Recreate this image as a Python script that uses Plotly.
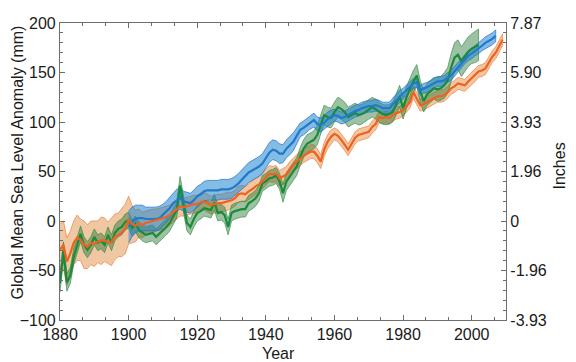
import plotly.graph_objects as go

# ---------------- data (mm) ----------------
orange_years = list(range(1880, 2010))
orange_mm = [-29, -24, -41, -33, -22, -17, -19, -24, -26, -22,
             -23, -21, -20, -19, -22, -21, -16, -14, -12, -8,
             1, -3, -5, -2, -4, -2, -1, 0, 1, 2,
             3, 4, 6, 9, 12, 15, 14, 15, 16, 17,
             17, 19, 20, 18, 16, 17, 18, 18, 19, 20,
             21, 23, 27, 28, 27, 30, 32, 35, 37, 40,
             44, 48, 47, 48, 43, 45, 47, 52, 57, 60,
             63, 66, 68, 70, 70, 66, 60, 72, 80, 85,
             88, 86, 82, 77, 72, 78, 84, 87, 88, 89,
             90, 95, 98, 105, 104, 105, 104, 107, 109, 110,
             112, 116, 120, 130, 124, 117, 118, 120, 122, 124,
             126, 126, 127, 130, 134, 136, 139, 138, 137, 141,
             144, 147, 151, 152, 154, 160, 166, 170, 176, 183]
orange_err = [26, 24, 24, 23, 22, 23, 21, 24, 22, 22,
              23, 21, 24, 22, 21, 24, 23, 22, 24, 25,
              24, 19, 16, 14, 13, 12, 12, 12, 11, 11,
              11, 11, 10, 10, 10, 10, 9, 9, 9, 9,
              9, 9, 9, 9, 9, 9, 9, 9, 9, 9,
              8, 8, 8, 8, 8, 8, 8, 8, 8, 8,
              8, 8, 8, 8, 8, 8, 8, 8, 7, 7,
              7, 7, 7, 7, 7, 7, 7, 7, 7, 7,
              6, 6, 6, 6, 6, 6, 6, 6, 6, 6,
              6, 6, 6, 6, 6, 6, 6, 6, 6, 6,
              6, 6, 6, 6, 6, 6, 6, 6, 6, 6,
              6, 6, 6, 6, 6, 6, 6, 6, 6, 6,
              6, 6, 6, 6, 6, 6, 6, 6, 6, 6]

blue_years = list(range(1900, 2008))
blue_mm = [-6, -1, 2, 3, 3, 2, 2, 2, 2, 3,
           6, 9, 13, 18, 21, 23, 20, 19, 18, 21,
           25, 27, 30, 31, 31, 31, 31, 32, 32, 32,
           33, 35, 38, 42, 45, 49, 51, 53, 55, 58,
           63, 69, 72, 71, 68, 68, 73, 76, 80, 86,
           92, 94, 97, 100, 102, 98, 97, 99, 103, 105,
           107, 106, 104, 105, 107, 109, 111, 112, 114, 115,
           116, 116, 117, 116, 114, 114, 114, 118, 122, 126,
           129, 132, 136, 139, 140, 132, 134, 135, 137, 139,
           141, 141, 142, 145, 147, 151, 155, 160, 164, 167,
           169, 172, 174, 177, 180, 182, 184, 187]
blue_err = [16, 15, 14, 13, 13, 12, 12, 12, 12, 12,
            11, 11, 11, 11, 11, 11, 10, 10, 10, 10,
            10, 10, 10, 10, 10, 10, 10, 10, 10, 10,
            10, 10, 10, 10, 10, 10, 10, 10, 10, 10,
            10, 10, 10, 10, 10, 9, 9, 9, 9, 8,
            7, 7, 7, 7, 7, 7, 7, 7, 7, 7,
            6, 6, 6, 6, 6, 6, 6, 6, 6, 6,
            6, 6, 6, 6, 6, 6, 6, 6, 6, 6,
            5, 5, 5, 5, 5, 5, 5, 5, 5, 5,
            5, 5, 5, 5, 5, 5, 5, 5, 5, 5,
            5, 5, 5, 5, 6, 6, 6, 6]

green_years = list(range(1880, 2003))
green_mm = [-63, -30, -62, -55, -36, -24, -13, -24, -29, -24,
            -16, -22, -20, -24, -14, -22, -12, -8, -6, -1,
            1, -7, -3, -9, -12, -14, -13, -12, -16, -13,
            -9, -6, -2, 5, 11, 36, 18, -2, -6, 2,
            8, 10, 13, 12, 11, 19, 8, 9, 6, -6,
            8, 10, 11, 12, 12, 18, 20, 23, 28, 38,
            40, 43, 44, 46, 40, 28, 40, 45, 50, 55,
            65, 73, 78, 80, 82, 87, 98, 107, 105, 104,
            110, 115, 113, 110, 105, 107, 109, 107, 108, 110,
            113, 115, 113, 110, 108, 107, 108, 110, 118, 126,
            114, 125, 133, 141, 147, 131, 121, 128, 131, 134,
            133, 134, 137, 142, 155, 165, 168, 161, 166, 171,
            174, 176, 178]
green_err = [9, 9, 9, 8, 8, 8, 8, 8, 8, 8,
             8, 8, 8, 8, 8, 8, 8, 8, 8, 8,
             8, 8, 8, 8, 8, 8, 8, 8, 8, 8,
             8, 8, 8, 8, 8, 9, 8, 8, 8, 8,
             8, 8, 8, 8, 8, 8, 8, 8, 8, 8,
             8, 8, 8, 8, 8, 8, 8, 8, 8, 8,
             8, 8, 8, 8, 8, 9, 9, 9, 9, 9,
             9, 9, 9, 9, 9, 10, 10, 10, 10, 10,
             10, 10, 10, 10, 10, 10, 10, 10, 10, 10,
             10, 10, 10, 10, 10, 10, 10, 10, 11, 11,
             11, 11, 11, 11, 11, 11, 11, 11, 11, 11,
             12, 12, 13, 13, 14, 15, 15, 15, 15, 15,
             15, 16, 16]

x_ticks = [1880, 1900, 1920, 1940, 1960, 1980, 2000]
mm_ticks = [-100, -50, 0, 50, 100, 150, 200]
inch_labels = ["-3.93", "-1.96", "0", "1.96", "3.93", "5.90", "7.87"]

# ---------------- styles ----------------
series = [
    dict(x=orange_years, y=orange_mm, e=orange_err,
         line="rgb(242,96,30)", edge="rgba(240,130,60,0.9)", fill="rgba(220,130,50,0.45)"),
    dict(x=green_years, y=green_mm, e=green_err,
         line="rgb(25,140,60)", edge="rgba(40,140,60,0.8)", fill="rgba(40,115,50,0.45)"),
    dict(x=blue_years, y=blue_mm, e=blue_err,
         line="rgb(35,120,200)", edge="rgba(40,110,200,0.9)", fill="rgba(30,135,210,0.55)"),
]

fig = go.Figure()
for s in series:
    up = [v + e for v, e in zip(s["y"], s["e"])]
    lo = [v - e for v, e in zip(s["y"], s["e"])]
    fig.add_trace(go.Scatter(
        x=s["x"] + s["x"][::-1], y=up + lo[::-1], fill="toself",
        fillcolor=s["fill"], line=dict(color=s["edge"], width=0.8),
        mode="lines", hoverinfo="skip", showlegend=False))
for s, ax in [(series[1], "y"), (series[2], "y"), (series[0], "y2")]:
    fig.add_trace(go.Scatter(
        x=s["x"], y=s["y"], mode="lines", yaxis=ax,
        line=dict(color=s["line"], width=2.2), showlegend=False))

axis_col = "rgb(110,110,110)"
font = dict(family="Liberation Sans, Arial, sans-serif", size=16, color="#1a1a1a")

# the page body has an 8px margin, so the figure is drawn 8px smaller
fig.update_layout(
    width=568, height=354,
    margin=dict(l=52, r=70, t=15, b=42),
    paper_bgcolor="white", plot_bgcolor="white",
    font=font, showlegend=False,
    xaxis=dict(range=[1880, 2010], tickvals=x_ticks, ticks="inside", ticklen=5,
               tickcolor=axis_col, showline=True, linecolor=axis_col, linewidth=1.2,
               mirror="ticks", showgrid=False, zeroline=False,
               minor=dict(tick0=1880, dtick=20 / 3, ticks="inside", ticklen=3,
                          tickcolor=axis_col, showgrid=False),
               automargin=False),
    yaxis=dict(range=[-100, 200], tickvals=mm_ticks, ticks="inside", ticklen=5,
               tickcolor=axis_col, showline=True, linecolor=axis_col, linewidth=1.2,
               mirror=True, showgrid=False, zeroline=False,
               minor=dict(dtick=10, ticks="inside", ticklen=3, tickcolor=axis_col,
                          showgrid=False),
               automargin=False),
    yaxis2=dict(range=[-100, 200], overlaying="y", side="right", anchor="x",
                tickvals=mm_ticks, ticktext=inch_labels, ticks="inside", ticklen=5,
                tickcolor=axis_col, showline=True, linecolor=axis_col, linewidth=1.2,
                showgrid=False, zeroline=False,
                minor=dict(dtick=10, ticks="inside", ticklen=3, tickcolor=axis_col,
                           showgrid=False),
                automargin=False),
)

fig.add_annotation(text="Global Mean Sea Level Anomaly (mm)", textangle=-90,
                   xref="paper", yref="paper", x=0, y=0.5, xanchor="center", yanchor="middle",
                   xshift=-43, yshift=9, showarrow=False, font=dict(size=16))
fig.add_annotation(text="Inches", textangle=-90,
                   xref="paper", yref="paper", x=1, y=0.5, xanchor="center", yanchor="middle",
                   xshift=53, yshift=5, showarrow=False, font=dict(size=16))
fig.add_annotation(text="Year", xref="paper", yref="paper", x=0.5, y=0,
                   xanchor="center", yanchor="middle", xshift=-5, yshift=-33,
                   showarrow=False, font=dict(size=16))

fig.write_html("out.html")
